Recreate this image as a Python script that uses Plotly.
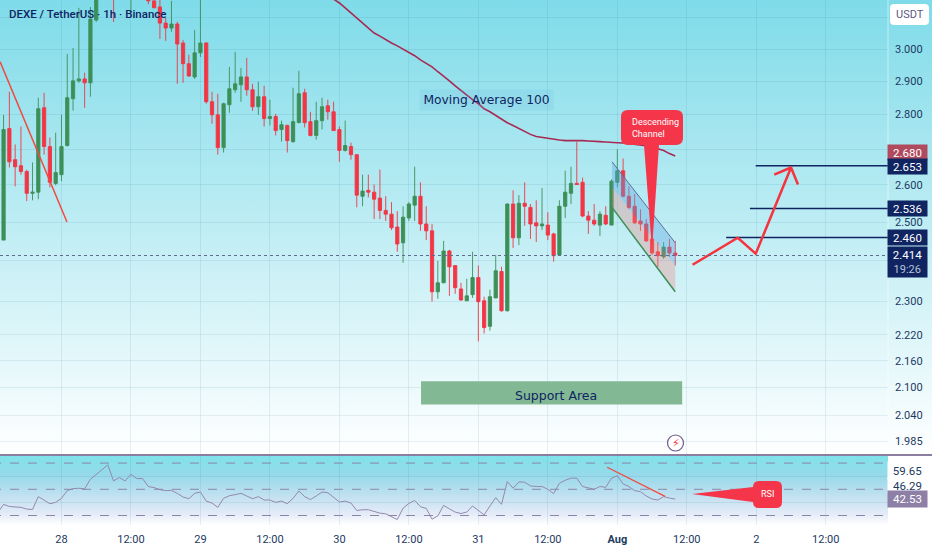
import base64
import math
import pandas as pd
import plotly.graph_objects as go

# hourly candles, 27 Jul 14:00 to 1 Aug 10:00
candle_open = [2.453, 2.759, 2.670, 2.653, 2.637, 2.577, 2.580, 2.820, 2.707, 2.604, 2.628, 2.710, 2.847, 2.901, 2.907, 2.895,
    3.093, 3.21, 3.30, 3.26, 3.20, 3.27, 3.20, 3.28, 3.23, 3.19, 3.156, 3.136, 3.083, 3.067, 3.080, 3.019, 2.954, 2.913, 2.988, 3.019,
    2.838, 2.799, 2.704, 2.829, 2.874, 2.889, 2.913, 2.874, 2.823, 2.853, 2.788, 2.794, 2.756, 2.768, 2.721, 2.776, 2.865, 2.779, 2.739, 2.782,
    2.826, 2.808, 2.756, 2.696, 2.707, 2.684, 2.569, 2.585, 2.580, 2.564, 2.531, 2.521, 2.487, 2.446, 2.511, 2.545, 2.569, 2.495, 2.477, 2.323,
    2.345, 2.425, 2.388, 2.330, 2.301, 2.316, 2.358, 2.301, 2.240, 2.308, 2.373, 2.277, 2.548, 2.459, 2.550, 2.539, 2.498, 2.490, 2.492, 2.469,
    2.415, 2.542, 2.577, 2.604, 2.607, 2.516, 2.505, 2.492, 2.518, 2.492, 2.607, 2.639, 2.569, 2.542, 2.503, 2.495, 2.456, 2.423, 2.410, 2.435, 2.420]
candle_high = [2.799, 2.868, 2.713, 2.765, 2.642, 2.662, 2.850, 2.865, 2.733, 2.747, 2.799, 2.985, 3.003, 3.133, 2.926, 3.136,
    3.25, 3.33, 3.34, 3.30, 3.30, 3.29, 3.31, 3.30, 3.25, 3.21, 3.165, 3.175, 3.10, 3.156, 3.087, 3.029, 2.982, 3.061, 3.175, 3.022,
    2.868, 2.862, 2.835, 2.944, 2.991, 2.941, 2.972, 2.892, 2.898, 2.886, 2.844, 2.802, 2.782, 2.770, 2.880, 2.932, 2.877, 2.808, 2.838, 2.850,
    2.844, 2.838, 2.765, 2.782, 2.718, 2.684, 2.628, 2.628, 2.601, 2.642, 2.569, 2.553, 2.529, 2.542, 2.553, 2.650, 2.607, 2.542, 2.495, 2.400,
    2.451, 2.428, 2.388, 2.345, 2.355, 2.423, 2.388, 2.311, 2.328, 2.415, 2.385, 2.550, 2.585, 2.572, 2.607, 2.548, 2.558, 2.591, 2.526, 2.472,
    2.558, 2.639, 2.650, 2.721, 2.620, 2.529, 2.548, 2.529, 2.542, 2.615, 2.699, 2.673, 2.596, 2.575, 2.534, 2.508, 2.516, 2.448, 2.448, 2.456, 2.451]
candle_low = [2.453, 2.648, 2.596, 2.628, 2.556, 2.558, 2.561, 2.684, 2.593, 2.599, 2.610, 2.707, 2.811, 2.895, 2.820, 2.853,
    3.087, 3.19, 3.22, 3.087, 3.19, 3.20, 3.12, 3.21, 3.17, 3.145, 3.133, 3.032, 3.026, 3.055, 2.892, 2.895, 2.913, 2.907, 2.975, 2.832,
    2.773, 2.684, 2.690, 2.805, 2.865, 2.838, 2.856, 2.811, 2.799, 2.765, 2.768, 2.739, 2.721, 2.690, 2.718, 2.776, 2.762, 2.736, 2.727, 2.756,
    2.785, 2.753, 2.664, 2.693, 2.670, 2.539, 2.542, 2.566, 2.508, 2.508, 2.503, 2.479, 2.423, 2.395, 2.503, 2.503, 2.477, 2.453, 2.299, 2.306,
    2.345, 2.313, 2.318, 2.301, 2.301, 2.308, 2.205, 2.223, 2.230, 2.308, 2.275, 2.275, 2.433, 2.440, 2.490, 2.456, 2.448, 2.479, 2.453, 2.398,
    2.413, 2.511, 2.548, 2.601, 2.513, 2.469, 2.490, 2.464, 2.492, 2.492, 2.593, 2.566, 2.534, 2.495, 2.477, 2.448, 2.415, 2.385, 2.405, 2.410, 2.388]
candle_close = [2.756, 2.664, 2.650, 2.637, 2.577, 2.580, 2.817, 2.707, 2.607, 2.634, 2.707, 2.850, 2.901, 2.907, 2.895, 3.096,
    3.21, 3.28, 3.24, 3.20, 3.26, 3.22, 3.27, 3.23, 3.19, 3.156, 3.133, 3.083, 3.067, 3.080, 3.016, 2.954, 2.916, 2.988, 3.019, 2.838,
    2.799, 2.704, 2.832, 2.877, 2.892, 2.913, 2.874, 2.823, 2.853, 2.788, 2.794, 2.753, 2.770, 2.724, 2.779, 2.862, 2.776, 2.739, 2.782, 2.823,
    2.808, 2.753, 2.696, 2.710, 2.684, 2.572, 2.583, 2.580, 2.561, 2.531, 2.521, 2.485, 2.443, 2.513, 2.548, 2.569, 2.495, 2.477, 2.323, 2.345,
    2.425, 2.385, 2.333, 2.303, 2.313, 2.358, 2.299, 2.237, 2.311, 2.375, 2.277, 2.548, 2.459, 2.550, 2.542, 2.495, 2.490, 2.495, 2.466, 2.413,
    2.542, 2.580, 2.604, 2.601, 2.516, 2.505, 2.495, 2.521, 2.495, 2.610, 2.639, 2.569, 2.539, 2.498, 2.495, 2.451, 2.420, 2.413, 2.435, 2.420, 2.414]

# moving average 100, only the part that is on screen
ma_100 = [3.162, 3.149, 3.133, 3.116, 3.100, 3.083, 3.068, 3.051, 3.041, 3.029, 3.019, 3.010, 3.000, 2.991, 2.979, 2.966, 2.956, 2.944,
    2.929, 2.916, 2.901, 2.886, 2.871, 2.856, 2.844, 2.832, 2.817, 2.808, 2.797, 2.785, 2.776, 2.768, 2.759, 2.750, 2.742, 2.736, 2.733, 2.730,
    2.727, 2.726, 2.724, 2.724, 2.726, 2.724, 2.723, 2.721, 2.721, 2.720, 2.718, 2.718, 2.717, 2.715, 2.714, 2.712, 2.710, 2.707, 2.701, 2.696, 2.687, 2.680]

rsi = [32.1, 38.5, 36.9, 36.4, 36.2, 34.9, 34.6, 44.4, 41.5, 39.0, 40.0, 43.1, 49.0, 50.5, 50.8, 50.3, 57.7, 61.0, 64.9, 68.7, 56.4, 59.0, 56.4, 61.5,
    58.2, 58.2, 52.1, 51.3, 49.7, 49.0, 49.2, 46.9, 44.1, 42.8, 46.9, 47.9, 41.0, 39.5, 36.2, 43.1, 45.1, 45.9, 46.9, 44.9, 42.8, 44.4, 41.8, 41.8,
    40.0, 41.0, 39.0, 43.1, 48.7, 44.4, 42.1, 44.9, 47.9, 47.4, 44.1, 40.3, 41.0, 39.5, 33.8, 34.4, 34.4, 33.3, 31.8, 31.3, 29.0, 26.9, 35.6, 39.2,
    41.5, 36.7, 35.4, 27.2, 29.7, 37.7, 35.1, 32.6, 31.5, 32.6, 37.2, 33.8, 30.5, 37.2, 43.6, 38.5, 55.9, 50.8, 55.6, 55.4, 52.6, 52.1, 52.1, 50.0,
    46.7, 54.6, 56.9, 58.5, 58.5, 52.1, 50.8, 50.0, 52.1, 51.5, 58.5, 60.3, 54.1, 52.1, 49.0, 48.2, 44.9, 42.6, 41.8, 44.4, 43.3, 42.53]

price_ticks = [3.1, 3.0, 2.9, 2.8, 2.7, 2.6, 2.5, 2.4, 2.3, 2.22, 2.16, 2.1, 2.04, 1.985]
price_labels = ["", "3.000", "2.900", "2.800", "", "2.600", "2.500", "", "2.300", "2.220", "2.160", "2.100", "2.040", "1.985"]
time_ticks = ["2024-07-28 00:00", "2024-07-28 12:00", "2024-07-29 00:00", "2024-07-29 12:00", "2024-07-30 00:00", "2024-07-30 12:00",
    "2024-07-31 00:00", "2024-07-31 12:00", "2024-08-01 00:00", "2024-08-01 12:00", "2024-08-02 00:00", "2024-08-02 12:00"]
time_labels = ["28", "12:00", "29", "12:00", "30", "12:00", "31", "12:00", "<b>Aug</b>", "12:00", "2", "12:00"]

targets = [2.460, 2.536, 2.653]
target_starts = ["2024-08-01 18:48", "2024-08-01 22:54", "2024-08-01 23:54"]
ma_last = 2.680
last_price = 2.414
countdown = "19:26"
rsi_bands = [70, 50, 30]
rsi_labels = ["59.65", "46.29", "42.53"]

W, H = 932, 550
PLOT_W, PLOT_H = 888, 525
MAIN_H = 455
NAVY = "#0f2461"
RED = "#f23645"
GREEN = "#3d8f58"
TICK = "#1c3a62"
FONT = "Roboto"

times = pd.date_range("2024-07-27 14:00", periods=len(candle_open), freq="h")
ma_times = times[-len(ma_100):]
rsi_times = pd.date_range("2024-07-27 13:00", periods=len(rsi), freq="h")


def px(x):
    return x / PLOT_W


def py(y):
    return (PLOT_H - y) / PLOT_H


def gradient(stops):
    parts = "".join(f'<stop offset="{o}" stop-color="{c}"/>' for o, c in stops)
    svg = ('<svg xmlns="http://www.w3.org/2000/svg" width="10" height="100" preserveAspectRatio="none"><defs>'
           f'<linearGradient id="g" x1="0" y1="0" x2="0" y2="1">{parts}</linearGradient></defs>'
           '<rect width="10" height="100" fill="url(#g)"/></svg>')
    return "data:image/svg+xml;base64," + base64.b64encode(svg.encode()).decode()


def bubble(x0, y0, x1, y1, r, tail):
    # rounded box, tail is a list of points put in on the side it names
    side, pts = tail
    P = lambda x, y: f"{px(x):.5f} {py(y):.5f}"
    d = f"M {P(x0 + r, y0)} L {P(x1 - r, y0)} Q {P(x1, y0)} {P(x1, y0 + r)} L {P(x1, y1 - r)} Q {P(x1, y1)} {P(x1 - r, y1)} "
    if side == "bottom":
        d += " ".join("L " + P(*p) for p in pts) + " "
    d += f"L {P(x0 + r, y1)} Q {P(x0, y1)} {P(x0, y1 - r)} "
    if side == "left":
        d += " ".join("L " + P(*p) for p in pts) + " "
    d += f"L {P(x0, y0 + r)} Q {P(x0, y0)} {P(x0 + r, y0)} Z"
    return d


fig = go.Figure()

fig.add_trace(go.Candlestick(x=times, open=candle_open, high=candle_high, low=candle_low, close=candle_close,
    increasing=dict(line=dict(color=GREEN, width=0.9), fillcolor=GREEN),
    decreasing=dict(line=dict(color=RED, width=0.9), fillcolor=RED),
    whiskerwidth=0, hoverinfo="skip"))

fig.add_trace(go.Scatter(x=ma_times, y=ma_100, mode="lines", line=dict(color="#a82a52", width=1.6), hoverinfo="skip"))

# descending channel drawing
chan_x = ["2024-07-31 23:05", "2024-08-01 10:00"]
chan_top = [2.664, 2.446]
chan_mid = [2.593, 2.388]
chan_low = [2.539, 2.323]
fig.add_trace(go.Scatter(x=chan_x + chan_x[::-1], y=chan_top + chan_mid[::-1], mode="lines", fill="toself",
    fillcolor="rgba(90,165,225,0.38)", line=dict(width=0), hoverinfo="skip"))
fig.add_trace(go.Scatter(x=chan_x + chan_x[::-1], y=chan_mid + chan_low[::-1], mode="lines", fill="toself",
    fillcolor="rgba(240,130,125,0.32)", line=dict(width=0), hoverinfo="skip"))
fig.add_trace(go.Scatter(x=chan_x, y=chan_top, mode="lines", line=dict(color="#5d6f9a", width=1), hoverinfo="skip"))
fig.add_trace(go.Scatter(x=chan_x, y=chan_low, mode="lines", line=dict(color="#3d8f58", width=1.5), hoverinfo="skip"))

# left trend line
fig.add_trace(go.Scatter(x=["2024-07-27 13:24", "2024-07-28 00:57"], y=[2.960, 2.500], mode="lines",
    line=dict(color="#f2493f", width=1.5), hoverinfo="skip"))

# target lines
for p, start in zip(targets, target_starts):
    fig.add_trace(go.Scatter(x=[start, "2024-08-02 22:45"], y=[p, p], mode="lines", line=dict(color=NAVY, width=1.5), hoverinfo="skip"))

# projected path with arrow head
fig.add_trace(go.Scatter(
    x=["2024-08-01 13:00", "2024-08-01 20:48", "2024-08-01 23:54", "2024-08-02 06:00", None, "2024-08-02 03:06", "2024-08-02 06:00", "2024-08-02 07:12"],
    y=[2.390, 2.459, 2.418, 2.648, None, 2.628, 2.648, 2.601], mode="lines",
    line=dict(color="#f4343f", width=2.5), hoverinfo="skip"))

# RSI pane
for b in rsi_bands:
    fig.add_trace(go.Scatter(x=[rsi_times[0] - pd.Timedelta(hours=1), "2024-08-02 22:45"], y=[b, b], yaxis="y2", mode="lines",
        line=dict(color="#8a86a6", width=1, dash="dash"), hoverinfo="skip"))
fig.add_trace(go.Scatter(x=rsi_times, y=rsi, yaxis="y2", mode="lines", line=dict(color="#9389ac", width=1), hoverinfo="skip"))
fig.add_trace(go.Scatter(x=["2024-07-31 22:15", "2024-08-01 08:15"], y=[66.8, 44.6], yaxis="y2", mode="lines",
    line=dict(color="#f2493f", width=1.2), hoverinfo="skip"))

main_bg = gradient([(0, "#7fdbe9"), (1, "#ffffff")])
rsi_bg = gradient([(0, "#7fe3ea"), (0.28, "#97d9ea"), (0.65, "#cbe3f2"), (0.85, "#e6ecf8"), (1, "#ffffff")])

images = [
    dict(source=main_bg, xref="paper", yref="paper", x=0, y=1, sizex=W / PLOT_W, sizey=MAIN_H / PLOT_H,
         xanchor="left", yanchor="top", sizing="stretch", layer="below"),
    dict(source=rsi_bg, xref="paper", yref="paper", x=0, y=py(456), sizex=1, sizey=69 / PLOT_H,
         xanchor="left", yanchor="top", sizing="stretch", layer="below"),
]

paper = dict(xref="paper", yref="paper")
shapes = [
    # support zone
    dict(type="rect", xref="x", yref="y", x0="2024-07-30 14:06", x1="2024-08-01 11:12", y0=2.063, y1=2.114,
         fillcolor="#82b994", line=dict(width=0)),
    # last price
    dict(type="line", **paper, x0=0, x1=1, y0=py(255.5), y1=py(255.5), line=dict(color="#5f6c92", width=1, dash="dot")),
    # pane separator and scale edge
    dict(type="line", **paper, x0=0, x1=W / PLOT_W, y0=py(455), y1=py(455), line=dict(color="#8a7fa0", width=2)),
    dict(type="line", **paper, x0=1, x1=1, y0=py(0), y1=py(454), line=dict(color="rgba(255,255,255,0.5)", width=1)),
    # callouts
    dict(type="path", **paper, fillcolor="#f5364a", line=dict(width=0),
         path=bubble(621, 110, 683, 145, 7, ("bottom", [(659, 145), (652, 250), (644, 145)]))),
    dict(type="path", **paper, fillcolor="#f5364a", line=dict(width=0),
         path=bubble(753, 481, 782, 508, 6, ("left", [(753, 502), (692, 494), (753, 487)]))),
    # USDT button
    dict(type="path", **paper, fillcolor="#ffffff", line=dict(width=0), path=bubble(890, 4, 929, 25, 4, ("none", []))),
    # alert icon
    dict(type="circle", **paper, x0=px(667.5), x1=px(683.5), y0=py(451), y1=py(435), fillcolor="#ffffff", line=dict(color="#6c5a8a", width=1.2)),
]


def tag(text, y, bg, color="#ffffff", h=13, x=887, w=37, size=11.5):
    return dict(text=text, **paper, x=px(x), y=py(y), xanchor="left", yanchor="middle", width=w, height=h, align="center",
                showarrow=False, bgcolor=bg, font=dict(family=FONT, size=size, color=color))


annotations = [
    dict(text="DEXE / TetherUS · 1h · Binance", **paper, x=px(7), y=py(14), xanchor="left", yanchor="middle", showarrow=False,
         font=dict(family=FONT, size=11.5, color=NAVY, weight=500)),
    dict(text="Moving Average 100", **paper, x=px(486.5), y=py(100), xanchor="center", yanchor="middle", showarrow=False,
         width=131, height=18, bgcolor="rgba(90,170,220,0.14)", font=dict(family="DejaVu Sans", size=12.3, color=NAVY)),
    dict(text="Support Area", **paper, x=px(556), y=py(395), xanchor="center", yanchor="middle", showarrow=False,
         font=dict(family="DejaVu Sans", size=12.5, color=NAVY)),
    dict(text="Descending<br>Channel", **paper, x=px(630), y=py(127.5), xanchor="left", yanchor="middle", align="left", showarrow=False,
         font=dict(family=FONT, size=9, color="#ffffff")),
    dict(text="RSI", **paper, x=px(767.5), y=py(494), xanchor="center", yanchor="middle", showarrow=False,
         font=dict(family=FONT, size=9, color="#ffffff")),
    dict(text="USDT", **paper, x=px(909.5), y=py(14.5), xanchor="center", yanchor="middle", showarrow=False,
         font=dict(family=FONT, size=11, color="#5a5a85")),
    dict(text="⚡", **paper, x=px(675.5), y=py(443), xanchor="center", yanchor="middle", showarrow=False,
         font=dict(family="DejaVu Sans", size=11, color=RED)),
    tag(f"{ma_last:.3f}", 152, "#b04a5e"),
    tag(f"{targets[2]:.3f}", 166, NAVY),
    tag(f"{targets[1]:.3f}", 208.5, NAVY),
    tag(f"{targets[0]:.3f}", 237.5, NAVY),
    tag(f"{last_price:.3f}<br><span style='color:#b7c3d8;font-size:11px'>{countdown}</span>", 262, NAVY, h=28),
    tag(rsi_labels[0], 470, "#ffffff", color=TICK, h=15),
    tag(rsi_labels[1], 485, "#ffffff", color=TICK, h=15),
    tag(rsi_labels[2], 499, "#8d7fa5", h=14),
]

grid = "rgba(40,120,150,0.11)"
fig.update_layout(
    width=W, height=H, margin=dict(l=0, r=W - PLOT_W, t=0, b=H - PLOT_H), showlegend=False, boxgap=0.2,
    paper_bgcolor="#ffffff", plot_bgcolor="rgba(0,0,0,0)", images=images, shapes=shapes, annotations=annotations,
    font=dict(family=FONT),
    xaxis=dict(type="date", range=["2024-07-27 13:23", "2024-08-02 22:45"], anchor="y2", rangeslider=dict(visible=False),
        tickmode="array", tickvals=time_ticks, ticktext=time_labels, tickfont=dict(family=FONT, size=11, color=TICK),
        showgrid=True, gridcolor=grid, gridwidth=1, zeroline=False, showline=False, ticks="", ticklabelstandoff=6),
    yaxis=dict(type="log", domain=[(PLOT_H - MAIN_H) / PLOT_H, 1], range=[math.log10(1.956), math.log10(3.159)], side="right",
        tickmode="array", tickvals=price_ticks, ticktext=price_labels, tickfont=dict(family=FONT, size=11, color=TICK),
        showgrid=True, gridcolor=grid, gridwidth=1, zeroline=False, showline=False, ticks="", ticklabelstandoff=6),
    yaxis2=dict(domain=[0, 69 / PLOT_H], range=[22.75, 75.4], side="right", tickmode="array", tickvals=[40, 60], showticklabels=False,
        showgrid=True, gridcolor=grid, gridwidth=1, zeroline=False, showline=False, ticks=""),
)

fig.write_html("out.html", config={"displayModeBar": False}, post_script="document.body.style.margin='0';")
